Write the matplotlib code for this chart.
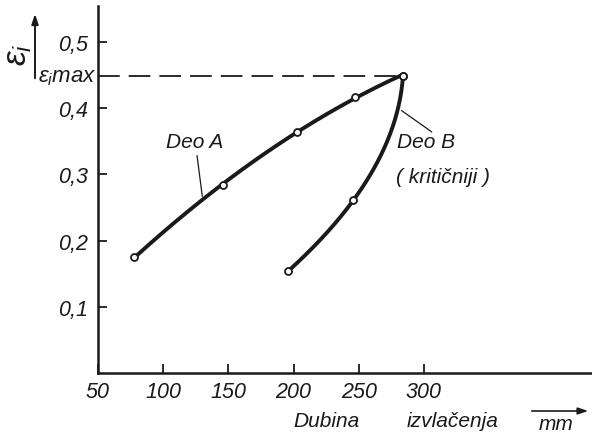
import numpy as np
import matplotlib
import matplotlib.pyplot as plt

matplotlib.use('Agg')

# values
deo_a_x = [78, 146, 203, 247, 284]
deo_a_y = [0.175, 0.284, 0.364, 0.417, 0.449]
deo_b_x = [196, 246, 284]
deo_b_y = [0.154, 0.261, 0.449]
eps_max = 0.449
x_ticks = [50, 100, 150, 200, 250, 300]
y_ticks = [0.1, 0.2, 0.3, 0.4, 0.5]
y_tick_labels = ["0,1", "0,2", "0,3", "0,4", "0,5"]

plt.rcParams['font.family'] = ['Liberation Sans', 'DejaVu Sans']
plt.rcParams['font.style'] = 'italic'
plt.rcParams['mathtext.fontset'] = 'custom'
plt.rcParams['mathtext.it'] = 'Liberation Sans:italic'
plt.rcParams['mathtext.rm'] = 'Liberation Sans:italic'

ink = '#1a1a1a'

fig = plt.figure(figsize=(5.92, 4.35), dpi=100)
ax = fig.add_axes([98 / 592, 61 / 435, 494 / 592, 367 / 435])
ax.set_xlim(50, 429)
ax.set_ylim(0, 0.554)

# smooth curves through the measured points
a_fit = np.polyfit(deo_a_x, deo_a_y, 2)
xs = np.linspace(deo_a_x[0], deo_a_x[-1], 200)
ax.plot(xs, np.polyval(a_fit, xs), color=ink, lw=2.8, solid_capstyle='round')

b_fit = np.polyfit(deo_b_y, deo_b_x, 2)
ys = np.linspace(deo_b_y[0], deo_b_y[-1], 200)
ax.plot(np.polyval(b_fit, ys), ys, color=ink, lw=2.8, solid_capstyle='round')

ax.plot(deo_a_x, deo_a_y, 'o', ms=5, mfc='white', mec=ink, mew=1.3, zorder=3)
ax.plot(deo_b_x, deo_b_y, 'o', ms=5, mfc='white', mec=ink, mew=1.3, zorder=3)

# dashed max line
ax.plot([50, deo_a_x[-1]], [eps_max, eps_max], color=ink, lw=1.3,
        dashes=(12, 5), clip_on=False)

for s in ['top', 'right']:
    ax.spines[s].set_visible(False)
for s in ['left', 'bottom']:
    ax.spines[s].set_linewidth(1.8)
    ax.spines[s].set_color(ink)

ax.set_xticks(x_ticks)
ax.set_xticklabels([str(v) for v in x_ticks])
ax.set_yticks(y_ticks)
ax.set_yticklabels(y_tick_labels)
ax.tick_params(direction='in', length=6.5, width=1.3, colors=ink,
               labelsize=15.5)
ax.tick_params(axis='x', pad=6)
ax.tick_params(axis='y', pad=7)

# annotations
ax.text(124, 0.349, "Deo A", fontsize=15, ha='center', va='center', color=ink)
ax.plot([126, 130], [0.328, 0.267], color=ink, lw=0.9)
ax.text(302, 0.349, "Deo B", fontsize=15, ha='center', va='center', color=ink)
ax.text(315, 0.296, "( kritičniji )", fontsize=15, ha='center', va='center',
        color=ink)
ax.plot([283, 306], [0.396, 0.364], color=ink, lw=0.9)

ax.annotate(r"$ε_{i}$max", xy=(50, eps_max), xytext=(-1, -1),
            textcoords='offset points', ha='right', va='center',
            fontsize=16, color=ink, annotation_clip=False)

# y label: eps_i rotated with an upward arrow
fig.text(19 / 592, 1 - 55 / 435, r"$ε_{i}$", rotation=90,
         fontsize=24, ha='center', va='center', color=ink)
fig.add_artist(matplotlib.patches.FancyArrowPatch(
    (35 / 592, 1 - 82 / 435), (35 / 592, 1 - 12 / 435),
    transform=fig.transFigure, arrowstyle='-|>,head_length=6,head_width=2',
    color=ink, lw=1.4))

# x label
fig.text(293 / 592, 1 - 422 / 435, "Dubina", fontsize=15, va='center',
         color=ink)
fig.text(407 / 592, 1 - 422 / 435, "izvlačenja", fontsize=15, va='center',
         color=ink)
fig.text(539 / 592, 1 - 425 / 435, "mm", fontsize=15, va='center', color=ink)
fig.add_artist(matplotlib.patches.FancyArrowPatch(
    (529 / 592, 1 - 412 / 435), (591 / 592, 1 - 412 / 435),
    transform=fig.transFigure, arrowstyle='-|>,head_length=6,head_width=2',
    color=ink, lw=1.2))

fig.savefig('out.png', dpi=100)
